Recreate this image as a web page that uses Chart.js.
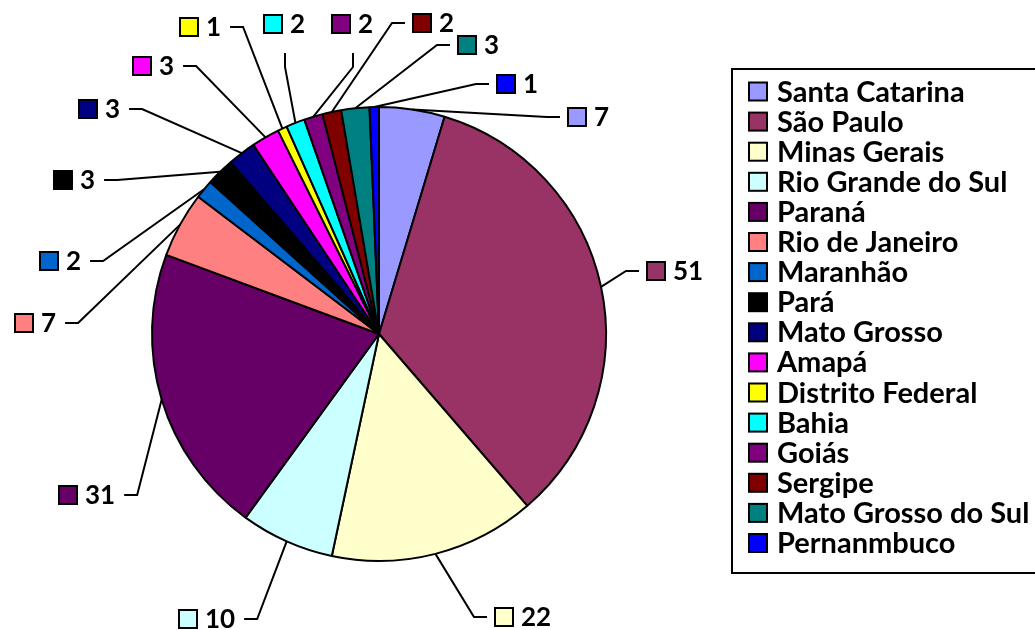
<!DOCTYPE html>
<html><head><meta charset="utf-8">
<script src="https://cdn.jsdelivr.net/npm/chart.js@4/dist/chart.umd.min.js"></script>
<style>html,body{margin:0;padding:0;background:#fff;}#wrap{width:1035px;height:630px;position:relative;}</style>
</head><body><div id="wrap"><canvas id="c" width="1035" height="630"></canvas></div>
<script>
// ---- data ----
const states = ["Santa Catarina","São Paulo","Minas Gerais","Rio Grande do Sul","Paraná","Rio de Janeiro","Maranhão","Pará","Mato Grosso","Amapá","Distrito Federal","Bahia","Goiás","Sergipe","Mato Grosso do Sul","Pernanmbuco"];
const counts = [7,51,22,10,31,7,2,3,3,3,1,2,2,2,3,1];
const sliceColors = ["#9999FF","#993366","#FFFFCC","#CCFFFF","#660066","#FF8080","#0066CC","#000000","#000080","#FF00FF","#FFFF00","#00FFFF","#800080","#800000","#008080","#0000FF"];

// ---- label layout (positions of data-label boxes) ----
const labelBoxLeft = [567,646,494,178,58,14,39,53,78,132,179,263,331,412,457,496];
const labelMidY    = [117,271,617,619,495,323,261,180,109,66,27,24,24,23,45,84];
const leaderKind   = ['before','before','before','after','after','after','after','after','after','after','after','below','below','before','before','before'];

const LABEL_FONT = 'bold 26px Lato';
const LEGEND_FONT = 'bold 29px Lato';

const labelsPlugin = {
  id: 'excelLabels',
  afterDatasetsDraw(chart) {
    const ctx = chart.ctx;
    const meta = chart.getDatasetMeta(0);
    const ds = chart.data.datasets[0];
    ctx.save();
    ctx.font = LABEL_FONT;
    meta.data.forEach((arc, i) => {
      const p = arc.getProps(['x','y','startAngle','endAngle','outerRadius'], true);
      const mid = (p.startAngle + p.endAngle) / 2;
      const ax = p.x + Math.cos(mid) * p.outerRadius;
      const ay = p.y + Math.sin(mid) * p.outerRadius;
      const bx = labelBoxLeft[i], cy = labelMidY[i];
      const txt = String(ds.data[i]);
      const tx = bx + 27;
      const tw = ctx.measureText(txt).width;
      let s1, s2;
      if (leaderKind[i] === 'before') { s1 = [bx - 7, cy]; s2 = [bx - 20, cy]; }
      else if (leaderKind[i] === 'after') { s1 = [tx + tw + 9, cy]; s2 = [tx + tw + 22, cy]; }
      else { s1 = [bx + 22, cy + 29]; s2 = [bx + 22, cy + 43]; }
      ctx.beginPath();
      ctx.moveTo(s1[0], s1[1]);
      ctx.lineTo(s2[0], s2[1]);
      ctx.lineTo(ax, ay);
      ctx.lineWidth = 2;
      ctx.strokeStyle = '#000';
      ctx.stroke();
      ctx.fillStyle = ds.backgroundColor[i];
      ctx.fillRect(bx + 1, cy - 9, 18, 18);
      ctx.lineWidth = 2;
      ctx.strokeRect(bx + 1, cy - 9, 18, 18);
      ctx.fillStyle = '#000';
      ctx.textBaseline = 'alphabetic';
      ctx.textAlign = 'left';
      ctx.fillText(txt, tx, cy + 9);
    });
    ctx.restore();
  },
  afterDraw(chart) {
    const ctx = chart.ctx;
    const ds = chart.data.datasets[0];
    ctx.save();
    ctx.lineWidth = 2;
    ctx.strokeStyle = '#000';
    ctx.strokeRect(732, 69, 320, 504);
    ctx.font = LEGEND_FONT;
    ctx.textBaseline = 'alphabetic';
    chart.data.labels.forEach((lab, i) => {
      const cy = 91.5 + i * 30.1;
      ctx.fillStyle = ds.backgroundColor[i];
      ctx.fillRect(749, cy - 9, 18, 18);
      ctx.strokeRect(749, cy - 9, 18, 18);
      ctx.fillStyle = '#000';
      ctx.fillText(lab, 777, cy + 10);
    });
    ctx.restore();
  }
};

new Chart(document.getElementById('c'), {
  type: 'pie',
  data: {
    labels: states,
    datasets: [{ data: counts, backgroundColor: sliceColors, borderColor: '#000', borderWidth: 2 }]
  },
  options: {
    responsive: false,
    animation: false,
    devicePixelRatio: 1,
    layout: { padding: { left: 151, right: 428, top: 106, bottom: 68 } },
    plugins: { legend: { display: false }, tooltip: { enabled: false } }
  },
  plugins: [labelsPlugin]
});
</script>
</body></html>
